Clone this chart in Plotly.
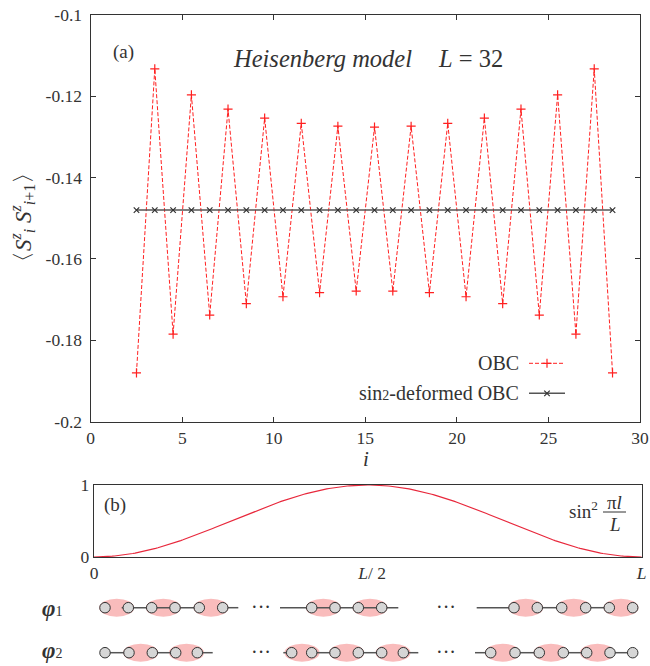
import numpy as np
import plotly.graph_objects as go

W, H = 650, 666
SERIF = "Liberation Serif"
INK = "#333333"

# ---- panel (a): nearest-neighbour correlation, Heisenberg chain L = 32 ----
bond_i = [2.5, 3.5, 4.5, 5.5, 6.5, 7.5, 8.5, 9.5, 10.5, 11.5, 12.5, 13.5, 14.5,
          15.5, 16.5, 17.5, 18.5, 19.5, 20.5, 21.5, 22.5, 23.5, 24.5, 25.5,
          26.5, 27.5, 28.5]
obc_corr = [-0.1880, -0.1133, -0.1785, -0.1197, -0.1738, -0.1232, -0.1710,
            -0.1254, -0.1693, -0.1267, -0.1683, -0.1274, -0.1679, -0.1276,
            -0.1679, -0.1274, -0.1683, -0.1267, -0.1693, -0.1254, -0.1710,
            -0.1232, -0.1738, -0.1197, -0.1785, -0.1133, -0.1880]
sin2_corr = [-0.148, -0.148, -0.148, -0.148, -0.148, -0.148, -0.148, -0.148,
             -0.148, -0.148, -0.148, -0.148, -0.148, -0.148, -0.148, -0.148,
             -0.148, -0.148, -0.148, -0.148, -0.148, -0.148, -0.148, -0.148,
             -0.148, -0.148, -0.148]
x_ticks_a = [0, 5, 10, 15, 20, 25, 30]
y_ticks_a = [-0.2, -0.18, -0.16, -0.14, -0.12, -0.1]
y_labels_a = ["-0.2", "-0.18", "-0.16", "-0.14", "-0.12", "-0.1"]

# ---- panel (b): deformation profile sin^2(pi l / L) ----
L = 32
l_vals = np.linspace(0, L, 241)
envelope = np.sin(np.pi * l_vals / L) ** 2
x_ticks_b = [0, L / 2, L]
x_labels_b = ["0", "\u00a0\u00a0<i>L</i>/ 2", "<i>L</i>"]

# ---- dimer-covering sketches (pixel layout) ----
row_y = {"phi1": 607.7, "phi2": 652.7}
sites = {
    "phi1": [105, 128.3, 151.7, 175, 199.3, 222.7, 311.7, 335, 358.3, 381.7,
             514, 537.3, 561.7, 585.7, 609.3, 632.7],
    "phi2": [105, 129, 152.3, 175.7, 197.3, 291.7, 311.7, 335, 358.3, 381.7,
             403.3, 490.7, 515, 539.3, 563.3, 586.7, 610, 632.7],
}
singlets = {
    "phi1": [116.7, 163.3, 211, 323.3, 370, 525.7, 573.7, 621],
    "phi2": [140.7, 186.5, 302, 346.7, 393, 502.5, 551, 597.5],
}
bonds = {
    "phi1": [(121.7, 128.3), (128.3, 199.3), (222.7, 238.3), (280, 398.3),
             (476.7, 514), (537.3, 561.7), (585.7, 609.3)],
    "phi2": [(105, 129), (152.3, 175.7), (197.3, 212.7), (283.3, 291.7),
             (311.7, 335), (358.3, 381.7), (403.3, 418.3), (475, 490.7),
             (515, 539.3), (563.3, 586.7), (610, 632.7)],
}
ellipsis_x = [261, 446]

fig = go.Figure()

OBC_RED = "#ff2020"

# panel (a) data
fig.add_trace(go.Scatter(
    x=bond_i, y=obc_corr, mode="lines+markers", xaxis="x", yaxis="y",
    line=dict(color=OBC_RED, width=1, dash="4px,2px"),
    marker=dict(symbol="cross-thin", size=6.5, line=dict(color=OBC_RED, width=1.2)),
    showlegend=False))
fig.add_trace(go.Scatter(
    x=bond_i, y=sin2_corr, mode="lines+markers", xaxis="x", yaxis="y",
    line=dict(color="#555555", width=1.6),
    marker=dict(symbol="x-thin", size=5.5, line=dict(color="#333333", width=1.2)),
    showlegend=False))

# panel (b) curve
fig.add_trace(go.Scatter(
    x=l_vals, y=envelope, mode="lines", xaxis="x2", yaxis="y2",
    line=dict(color="#e8283c", width=1.2), showlegend=False))

# legend keys drawn in the pixel overlay
fig.add_trace(go.Scatter(
    x=[529, 565], y=[363.3, 363.3], mode="lines", xaxis="x3", yaxis="y3",
    line=dict(color=OBC_RED, width=1, dash="4px,2px"), showlegend=False))
fig.add_trace(go.Scatter(
    x=[547], y=[363.3], mode="markers", xaxis="x3", yaxis="y3",
    marker=dict(symbol="cross-thin", size=6.5, line=dict(color=OBC_RED, width=1.2)),
    showlegend=False))
fig.add_trace(go.Scatter(
    x=[529, 565], y=[393.3, 393.3], mode="lines", xaxis="x3", yaxis="y3",
    line=dict(color="#555555", width=1.6), showlegend=False))
fig.add_trace(go.Scatter(
    x=[547], y=[393.3], mode="markers", xaxis="x3", yaxis="y3",
    marker=dict(symbol="x-thin", size=5.5, line=dict(color="#333333", width=1.2)),
    showlegend=False))

shapes = []
annotations = []

# chain sketches: singlet ellipses, bonds, sites
for key in ("phi1", "phi2"):
    yc = row_y[key]
    for cx in singlets[key]:
        shapes.append(dict(type="circle", xref="x3", yref="y3", layer="below",
                           x0=cx - 17.5, x1=cx + 17.5, y0=yc - 9, y1=yc + 9,
                           fillcolor="#f9bcbc", line=dict(width=0)))
    bx, by = [], []
    for a, b in bonds[key]:
        bx += [a, b, None]
        by += [yc, yc, None]
    fig.add_trace(go.Scatter(x=bx, y=by, mode="lines", xaxis="x3", yaxis="y3",
                             line=dict(color="#555555", width=1.5), showlegend=False))
    fig.add_trace(go.Scatter(
        x=sites[key], y=[yc] * len(sites[key]), mode="markers", xaxis="x3", yaxis="y3",
        marker=dict(symbol="circle", size=10.5, color="#d6d6d6",
                    line=dict(color="#333333", width=1)),
        showlegend=False))
    for dx in ellipsis_x:
        annotations.append(dict(x=dx, y=yc - 1, xref="x3", yref="y3", text="···",
                                showarrow=False, font=dict(family=SERIF, size=20, color=INK)))

annotations.append(dict(x=52, y=608, xref="x3", yref="y3", showarrow=False,
                        text="<b><i>φ</i></b><span style='font-size:14px'>1</span>",
                        font=dict(family=SERIF, size=23, color=INK)))
annotations.append(dict(x=52, y=650.5, xref="x3", yref="y3", showarrow=False,
                        text="<b><i>φ</i></b><span style='font-size:14px'>2</span>",
                        font=dict(family=SERIF, size=23, color=INK)))

# panel texts
annotations += [
    dict(x=123, y=52, xref="x3", yref="y3", text="(a)", showarrow=False,
         font=dict(family=SERIF, size=19, color=INK)),
    dict(x=231, y=58, xref="x3", yref="y3", xanchor="left", showarrow=False,
         text="<i>Heisenberg model</i>",
         font=dict(family=SERIF, size=24.5, color=INK)),
    dict(x=436, y=58, xref="x3", yref="y3", xanchor="left", showarrow=False,
         text="<i>L</i> = 32",
         font=dict(family=SERIF, size=24.5, color=INK)),
    dict(x=521, y=363, xref="x3", yref="y3", xanchor="right", text="OBC",
         showarrow=False, font=dict(family=SERIF, size=20, color=INK)),
    dict(x=521, y=393, xref="x3", yref="y3", xanchor="right",
         text="sin<span style='font-size:14px'>2</span>-deformed OBC",
         showarrow=False, font=dict(family=SERIF, size=20, color=INK)),
    dict(x=366, y=459, xref="x3", yref="y3", text="<i>i</i>", showarrow=False,
         font=dict(family=SERIF, size=21, color=INK)),
    dict(x=22, y=218, xref="x3", yref="y3", textangle=-90, showarrow=False,
         text="〈<i>S</i><sup><i>z</i></sup><sub><i>i</i></sub> <i>S</i>"
              "<sup><i>z</i></sup><sub><i>i</i>+1</sub>〉",
         font=dict(family=SERIF, size=23, color=INK)),
    dict(x=115, y=505, xref="x3", yref="y3", text="(b)", showarrow=False,
         font=dict(family=SERIF, size=19, color=INK)),
    dict(x=600, y=510, xref="x3", yref="y3", xanchor="right",
         text="sin<sup>2</sup>", showarrow=False,
         font=dict(family=SERIF, size=19, color=INK)),
    dict(x=614.5, y=502, xref="x3", yref="y3", text="π<i>l</i>", showarrow=False,
         font=dict(family=SERIF, size=19, color=INK)),
    dict(x=615, y=524, xref="x3", yref="y3", text="<i>L</i>", showarrow=False,
         font=dict(family=SERIF, size=19, color=INK)),
]
shapes.append(dict(type="line", xref="x3", yref="y3", x0=603, x1=626,
                   y0=512, y1=512, line=dict(color=INK, width=1)))

tick_font = dict(family=SERIF, size=17.5, color=INK)
fig.update_layout(
    width=W, height=H, margin=dict(l=0, r=0, t=0, b=0),
    paper_bgcolor="white", plot_bgcolor="rgba(0,0,0,0)",
    showlegend=False,
    xaxis=dict(domain=[90.7 / W, 640 / W], anchor="y", range=[0, 30],
               tickvals=x_ticks_a, ticks="inside", ticklen=5, tickcolor=INK,
               showline=True, linecolor=INK, linewidth=1.3, mirror="ticks",
               showgrid=False, zeroline=False, tickfont=tick_font,
               automargin=False),
    yaxis=dict(domain=[1 - 421.7 / H, 1 - 14.7 / H], anchor="x",
               range=[-0.2, -0.1], tickvals=y_ticks_a, ticktext=y_labels_a,
               ticks="inside", ticklen=5, tickcolor=INK, ticklabelstandoff=4,
               showline=True, linecolor=INK, linewidth=1.3, mirror="ticks",
               showgrid=False, zeroline=False, tickfont=tick_font,
               automargin=False),
    xaxis2=dict(domain=[94 / W, 641.7 / W], anchor="y2", range=[0, L],
                tickvals=x_ticks_b, ticktext=x_labels_b, ticks="",
                showline=True, linecolor=INK, linewidth=1.3, mirror=True,
                showgrid=False, zeroline=False, tickfont=tick_font,
                automargin=False),
    yaxis2=dict(domain=[1 - 557 / H, 1 - 485 / H], anchor="x2", range=[0, 1],
                tickvals=[0, 1], ticks="", showline=True, linecolor=INK,
                linewidth=1.3, mirror=True, showgrid=False, zeroline=False,
                tickfont=tick_font, automargin=False),
    xaxis3=dict(domain=[0, 1], anchor="y3", range=[0, W], visible=False,
                fixedrange=True),
    yaxis3=dict(domain=[0, 1], anchor="x3", range=[H, 0], visible=False,
                fixedrange=True),
    shapes=shapes,
    annotations=annotations,
)

fig.write_html("out.html")
